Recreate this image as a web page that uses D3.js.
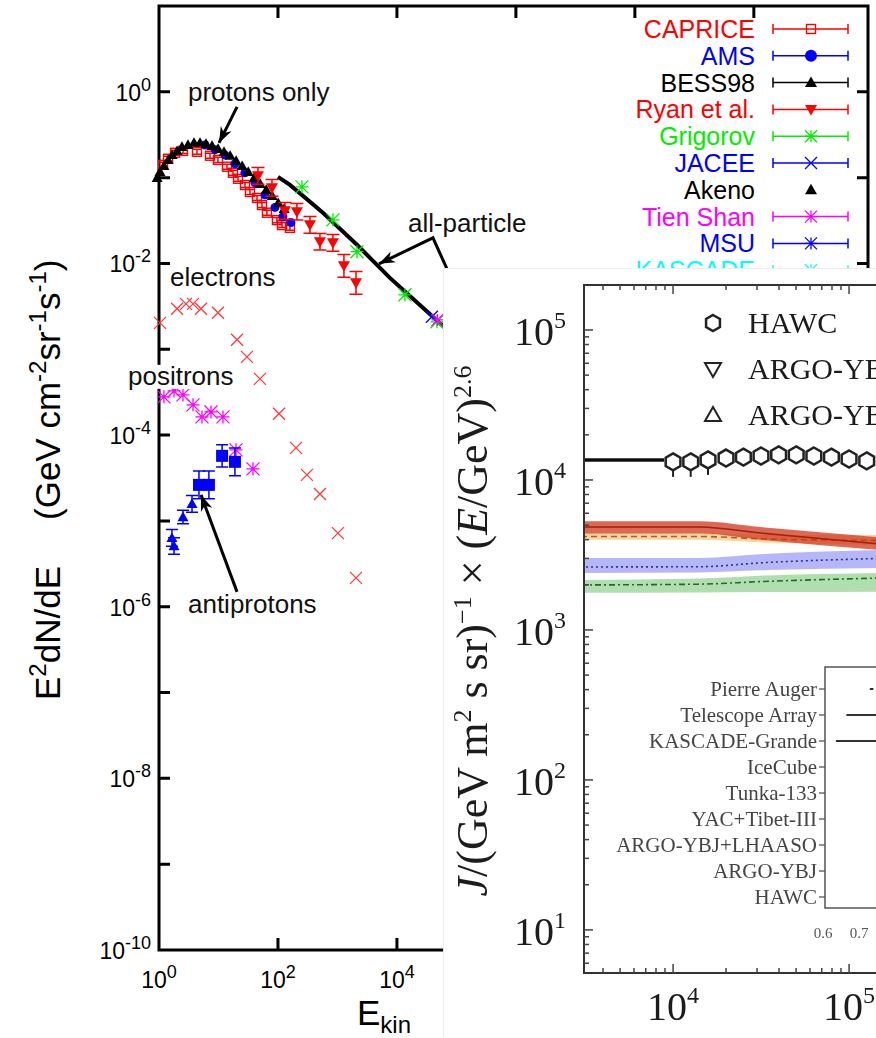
<!DOCTYPE html>
<html>
<head>
<meta charset="utf-8">
<script src="https://cdn.jsdelivr.net/npm/d3@7"></script>
<style>
  body { margin: 0; background: #fff; }
  svg { display: block; }
</style>
</head>
<body>
<svg id="chart" width="876" height="1038"></svg>
<script>
// ---- main chart: E^2 dN/dE vs E_kin (GeV)
var capriceE = [1.17, 1.42, 1.86, 2.53, 4.35, 7.2, 9.8, 13.9, 17.5, 21.3, 27.9, 33.8, 44.4, 53.8, 65.3, 96, 117, 159];
var capriceV = [0.141, 0.166, 0.195, 0.205, 0.200, 0.180, 0.161, 0.134, 0.114, 0.097, 0.082, 0.068, 0.058, 0.048, 0.039, 0.032, 0.028, 0.026];
var amsE = [5.94, 8.74, 12.9, 18.9, 27.8, 41, 60.5, 89, 121, 165];
var amsV = [0.240, 0.212, 0.183, 0.145, 0.114, 0.087, 0.063, 0.045, 0.035, 0.030];
var bessE = [0.93, 1.04, 1.21, 1.42, 1.67, 2.01, 2.43, 3.07, 3.88, 4.89, 6.17, 7.8, 9.84, 12.4, 15.7, 19.8, 25, 31.6, 39.8, 50.3, 63.5, 80, 101, 127];
var bessV = [0.0995, 0.117, 0.137, 0.161, 0.184, 0.205, 0.229, 0.241, 0.255, 0.255, 0.248, 0.235, 0.217, 0.200, 0.180, 0.157, 0.137, 0.117, 0.0995, 0.0847, 0.0721, 0.0614, 0.0508, 0.0433];
var ryanE = [46.1, 79.3, 131, 208, 345, 508, 839, 1285, 2048];
var ryanV = [0.105, 0.076, 0.041, 0.040, 0.0282, 0.0179, 0.0174, 0.00938, 0.00594];
var ryanErr = [1.25, 1.25, 1.25, 1.25, 1.25, 1.25, 1.25, 1.36, 1.36];
var grigorovE = [253, 840, 2128, 13620, 47000];
var grigorovV = [0.0781, 0.0322, 0.0137, 0.00431, 0.00209];
var jaceeE = [38700];
var jaceeV = [0.00239];
var tienShanE = [48000];
var tienShanV = [0.0022];
var allParticleE = [100, 159, 570, 2128, 7620, 27350, 98100];
var allParticleV = [0.102, 0.0824, 0.0389, 0.0165, 0.00679, 0.00304, 0.00136];
var electronE = [1.04, 2.01, 2.84, 3.73, 5.08, 9.8, 20.5, 30.1, 49.8, 104, 201, 307, 508, 1019, 2048];
var electronV = [0.00203, 0.00296, 0.00338, 0.00338, 0.00296, 0.00266, 0.00129, 0.000815, 0.000452, 0.000177, 7.1e-5, 3.44e-5, 2.06e-5, 7.2e-6, 2.17e-6];
var positronE = [1.21, 1.79, 2.53, 3.73, 5.28, 7.48, 11.9, 19.7, 38];
var positronV = [2.79e-4, 3.27e-4, 2.94e-4, 2.25e-4, 1.63e-4, 1.86e-4, 1.63e-4, 6.73e-5, 4.04e-5];
var pbarTriE = [1.65, 1.79, 2.53, 3.59];
var pbarTriV = [6.34e-6, 5.1e-6, 1.11e-5, 1.58e-5];
var pbarTriErr = [1.25, 1.25, 1.2, 1.25];
var pbarBoxE = [4.7, 6.9, 11.5, 18.9];
var pbarBoxV = [2.63e-5, 2.63e-5, 5.73e-5, 4.88e-5];
var pbarBoxErr = [1.45, 1.45, 1.35, 1.45];

var legendNames = ["CAPRICE", "AMS", "BESS98", "Ryan et al.", "Grigorov", "JACEE", "Akeno", "Tien Shan", "MSU", "KASCADE"];
var legendColors = ["#ff0000", "#0000ff", "#000000", "#ff0000", "#00ee00", "#0000ff", "#000000", "#ff00ff", "#0000ff", "#00ffff"];
var legendMarks = ["square", "circle", "up", "down", "star", "x", "up", "star", "star", "star"];
var legendBars = [true, true, true, true, true, true, false, true, true, true];

var noteText = ["protons only", "all-particle", "electrons", "positrons", "antiprotons"];
var noteE = [3.07, 15300, 1.53, 0.301, 3.07];
var noteV = [0.785, 0.0233, 0.00548, 3.85e-4, 8.47e-7];
var arrowProtonsE = [20.5, 10.2], arrowProtonsV = [0.668, 0.254];
var arrowAllE = [84000, 40300, 4980], arrowAllV = [0.00644, 0.0199, 0.00989];
var arrowPbarE = [20.5, 5.08], arrowPbarV = [1.49e-6, 2.01e-5];

// ---- pasted second figure (HAWC spectrum)
var hawcE = [1.0e4, 1.26e4, 1.58e4, 2.0e4, 2.51e4, 3.16e4, 3.98e4, 5.01e4, 6.31e4, 7.94e4, 1.0e5, 1.26e5];
var hawcV = [13200, 13200, 13600, 14000, 14200, 14450, 14700, 14700, 14450, 14200, 13800, 13400];
var hawcLineE = [3000, 8900];
var hawcLineV = [13600, 13600];
var bandE = [3000, 14200, 31200, 150000];
var redLo = [4400, 4400, 4000, 3415], redHi = [5300, 5300, 4850, 4150], redMid = [4860, 4860, 4430, 3740];
var orangeLo = [3990, 3990, 3850, 3690], orangeHi = [4440, 4440, 4300, 4300], orangeMid = [4200, 4200, 4050, 3950];
var blueLo = [2400, 2420, 2500, 2590], blueHi = [3020, 3020, 3200, 3415], blueMid = [2630, 2640, 2800, 3000];
var greenLo = [1770, 1780, 1790, 1800], greenHi = [2150, 2200, 2300, 2400], greenMid = [1995, 2020, 2100, 2220];
var ovLegend = ["HAWC", "ARGO-YBJ (2015)", "ARGO-YBJ (2012)"];
var ovLegendMarks = ["hex", "downOpen", "upOpen"];
var insetNames = ["Pierre Auger", "Telescope Array", "KASCADE-Grande", "IceCube", "Tunka-133", "YAC+Tibet-III", "ARGO-YBJ+LHAASO", "ARGO-YBJ", "HAWC"];
var insetLo = [0.73, 0.665, 0.636, null, null, null, null, null, null];
var insetHi = [0.74, 0.85, 0.85, null, null, null, null, null, null];
var insetTicks = [0.6, 0.7];

var svg = d3.select("#chart");
var defs = svg.append("defs");

var x = d3.scaleLog().domain([1, 8.3e11]).range([159, 868]);
var y = d3.scaleLog().domain([1e-10, 10]).range([950, 6]);

var left = svg.append("g").attr("font-family", "'Liberation Sans', Arial, Helvetica, sans-serif");

function mark(g, type, cx, cy, color, s) {
    var h = s / 2;
    if (type === "square") {
        g.append("rect").attr("x", cx - h).attr("y", cy - h).attr("width", s).attr("height", s)
            .attr("fill", "none").attr("stroke", color).attr("stroke-width", 1.4);
    } else if (type === "box") {
        g.append("rect").attr("x", cx - h).attr("y", cy - h).attr("width", s).attr("height", s).attr("fill", color);
    } else if (type === "circle") {
        g.append("circle").attr("cx", cx).attr("cy", cy).attr("r", h).attr("fill", color);
    } else if (type === "up" || type === "down") {
        var d = type === "up" ? 1 : -1;
        g.append("path")
            .attr("d", "M" + cx + "," + (cy - d * h) + "L" + (cx + h) + "," + (cy + d * h * 0.75) + "L" + (cx - h) + "," + (cy + d * h * 0.75) + "Z")
            .attr("fill", color);
    } else if (type === "x" || type === "star") {
        var p = "M" + (cx - h) + "," + (cy - h) + "L" + (cx + h) + "," + (cy + h) +
            "M" + (cx - h) + "," + (cy + h) + "L" + (cx + h) + "," + (cy - h);
        if (type === "star") {
            p += "M" + (cx - h) + "," + cy + "L" + (cx + h) + "," + cy + "M" + cx + "," + (cy - h) + "L" + cx + "," + (cy + h);
        }
        g.append("path").attr("d", p).attr("stroke", color).attr("stroke-width", 1.3).attr("fill", "none");
    }
}

function errBar(g, cx, y1, y2, w, color) {
    g.append("path")
        .attr("d", "M" + cx + "," + y1 + "V" + y2 + "M" + (cx - w / 2) + "," + y1 + "h" + w + "M" + (cx - w / 2) + "," + y2 + "h" + w)
        .attr("stroke", color).attr("stroke-width", 1.5).attr("fill", "none");
}

function series(E, V, type, color, size, err, capW) {
    var g = left.append("g");
    E.forEach(function (e, i) {
        var cx = x(e), cy = y(V[i]);
        if (err) errBar(g, cx, y(V[i] / err[i]), y(V[i] * err[i]), capW, color);
        mark(g, type, cx, cy, color, size);
    });
}

function powText(g, px, py, exp, anchor, size, supSize, rise) {
    var t = g.append("text").attr("x", px).attr("y", py).attr("text-anchor", anchor).attr("font-size", size);
    t.append("tspan").text("10");
    t.append("tspan").attr("dy", -rise).attr("font-size", supSize).text(exp);
    return t;
}

function arrow(E, V) {
    var pts = E.map(function (e, i) { return [x(e), y(V[i])]; });
    left.append("path").attr("d", d3.line()(pts)).attr("stroke", "#000").attr("stroke-width", 3).attr("fill", "none");
    var a = pts[pts.length - 2], b = pts[pts.length - 1];
    var ang = Math.atan2(b[1] - a[1], b[0] - a[0]);
    var ux = Math.cos(ang), uy = Math.sin(ang), L = 16, hw = 6;
    var bx = b[0] - ux * L, by = b[1] - uy * L;
    var head = [b, [bx - uy * hw, by + ux * hw], [b[0] - ux * L * 0.7, b[1] - uy * L * 0.7], [bx + uy * hw, by - ux * hw]];
    left.append("path").attr("d", d3.line()(head) + "Z").attr("fill", "#000");
}

// frame
var x0 = x.range()[0], x1 = x.range()[1], yb = y.range()[0], yt = y.range()[1];
left.append("rect").attr("x", x0).attr("y", yt).attr("width", x1 - x0).attr("height", yb - yt)
    .attr("fill", "none").attr("stroke", "#000").attr("stroke-width", 3);

// y ticks (each decade) and labels (every second decade)
d3.range(-9, 1).forEach(function (k) {
    var py = y(Math.pow(10, k));
    left.append("path").attr("d", "M" + x0 + "," + py + "h11M" + x1 + "," + py + "h-11")
        .attr("stroke", "#000").attr("stroke-width", 3);
});
d3.range(-10, 1, 2).forEach(function (k) {
    powText(left, 151, y(Math.pow(10, k)) + 9, String(k), "end", 23, 18, 10);
});
// x ticks and labels
d3.range(2, 12, 2).forEach(function (k) {
    var px = x(Math.pow(10, k));
    left.append("path").attr("d", "M" + px + "," + yb + "v-12M" + px + "," + yt + "v12")
        .attr("stroke", "#000").attr("stroke-width", 3);
});
d3.range(0, 12, 2).forEach(function (k) {
    powText(left, x(Math.pow(10, k)), 988, String(k), "middle", 23, 18, 10);
});

// axis titles
var xt = left.append("text").attr("x", 357).attr("y", 1025).attr("font-size", 35);
xt.append("tspan").text("E");
xt.append("tspan").attr("dy", 8).attr("font-size", 24).text("kin");

var yt1 = left.append("text").attr("transform", "translate(60,700) rotate(-90)").attr("font-size", 35);
yt1.append("tspan").text("E");
yt1.append("tspan").attr("dy", -14).attr("font-size", 24).text("2");
yt1.append("tspan").attr("dy", 14).text("dN/dE");
var yt2 = left.append("text").attr("transform", "translate(60,520) rotate(-90)").attr("font-size", 35);
yt2.append("tspan").text("(GeV cm");
yt2.append("tspan").attr("dy", -14).attr("font-size", 24).text("-2");
yt2.append("tspan").attr("dy", 14).text("sr");
yt2.append("tspan").attr("dy", -14).attr("font-size", 24).text("-1");
yt2.append("tspan").attr("dy", 14).text("s");
yt2.append("tspan").attr("dy", -14).attr("font-size", 24).text("-1");
yt2.append("tspan").attr("dy", 14).text(")");

// data
series(electronE, electronV, "x", "#ff3b3b", 12);
series(positronE, positronV, "star", "#ff00ff", 13);
series(pbarTriE, pbarTriV, "up", "#0000ff", 11, pbarTriErr, 12);
series(pbarBoxE, pbarBoxV, "box", "#0000ff", 12, pbarBoxErr, 12);
series(capriceE, capriceV, "square", "#ff0000", 9, capriceE.map(function () { return 1.07; }), 8);
series(amsE, amsV, "circle", "#0000ff", 9);
series(bessE, bessV, "up", "#000000", 11);
series(ryanE, ryanV, "down", "#ff0000", 12, ryanErr, 13);
left.append("path")
    .attr("d", d3.line().x(function (d) { return x(d[0]); }).y(function (d) { return y(d[1]); })(allParticleE.map(function (e, i) { return [e, allParticleV[i]]; })))
    .attr("stroke", "#000").attr("stroke-width", 4).attr("fill", "none");
series(grigorovE, grigorovV, "star", "#00ee00", 13);
series(jaceeE, jaceeV, "x", "#0000ff", 12);
series(tienShanE, tienShanV, "star", "#ff00ff", 12);

// annotations
noteText.forEach(function (t, i) {
    var tx = left.append("text").attr("x", x(noteE[i])).attr("y", y(noteV[i])).attr("font-size", 26).attr("fill", "#111").text(t);
    if (t === "positrons") {
        var bb = tx.node().getBBox();
        left.insert("rect", function () { return tx.node(); })
            .attr("x", bb.x).attr("y", bb.y + 4).attr("width", bb.width).attr("height", bb.height - 6).attr("fill", "#fff");
    }
});
arrow(arrowProtonsE, arrowProtonsV);
arrow(arrowAllE, arrowAllV);
arrow(arrowPbarE, arrowPbarV);

// legend
legendNames.forEach(function (name, i) {
    var base = 38 + 26.8 * i, cy = base - 9;
    left.append("text").attr("x", 755).attr("y", base).attr("text-anchor", "end").attr("font-size", 25)
        .attr("fill", legendColors[i]).text(name);
    var g = left.append("g");
    if (legendBars[i]) {
        g.append("path").attr("d", "M773," + cy + "H848M773," + (cy - 5) + "v10M848," + (cy - 5) + "v10")
            .attr("stroke", legendColors[i]).attr("stroke-width", 1.5).attr("fill", "none");
    }
    mark(g, legendMarks[i], 811, cy, legendColors[i], legendMarks[i] === "square" ? 9 : 12);
});

// ---- overlay figure
defs.append("clipPath").attr("id", "ovClip").append("rect").attr("x", 443).attr("y", 268).attr("width", 433).attr("height", 770);
defs.append("clipPath").attr("id", "ovFrame").append("rect").attr("x", 584).attr("y", 285).attr("width", 300).attr("height", 688);
var soft = defs.append("filter").attr("id", "soft");
soft.append("feGaussianBlur").attr("stdDeviation", 0.7);

var ov = svg.append("g").attr("clip-path", "url(#ovClip)")
    .attr("font-family", "'Liberation Serif', 'Times New Roman', serif");
ov.append("rect").attr("x", 443).attr("y", 268).attr("width", 440).attr("height", 780)
    .attr("fill", "#fff").attr("stroke", "#ececec").attr("stroke-width", 2);
var oc = ov.append("g").attr("filter", "url(#soft)");

var xo = d3.scaleLog().domain([3119, 316000]).range([584, 937]);
var yo = d3.scaleLog().domain([5.16, 199500]).range([973, 285]);

// bands
var bandArea = d3.area().x(function (d) { return xo(d.e); })
    .y0(function (d) { return yo(d.lo); }).y1(function (d) { return yo(d.hi); }).curve(d3.curveMonotoneX);
var bandLine = d3.line().x(function (d) { return xo(d.e); }).y(function (d) { return yo(d.mid); }).curve(d3.curveMonotoneX);
var bands = [
    { lo: greenLo, hi: greenHi, mid: greenMid, fill: "rgba(110,195,110,0.55)", stroke: "#1f6e1f", dash: "6,3,2,3" },
    { lo: blueLo, hi: blueHi, mid: blueMid, fill: "rgba(110,110,245,0.5)", stroke: "#303090", dash: "2,3" },
    { lo: orangeLo, hi: orangeHi, mid: orangeMid, fill: "rgba(245,185,90,0.6)", stroke: "#a86020", dash: "6,4" },
    { lo: redLo, hi: redHi, mid: redMid, fill: "rgba(210,55,30,0.75)", stroke: "#a02010", dash: null }
];
var bg = oc.append("g").attr("clip-path", "url(#ovFrame)");
bands.forEach(function (b) {
    var rows = bandE.map(function (e, i) { return { e: e, lo: b.lo[i], hi: b.hi[i], mid: b.mid[i] }; });
    bg.append("path").attr("d", bandArea(rows)).attr("fill", b.fill);
    bg.append("path").attr("d", bandLine(rows)).attr("fill", "none").attr("stroke", b.stroke)
        .attr("stroke-width", 1.6).attr("stroke-dasharray", b.dash);
});

// HAWC
bg.append("path")
    .attr("d", d3.line().x(function (d) { return xo(d[0]); }).y(function (d) { return yo(d[1]); })(hawcLineE.map(function (e, i) { return [e, hawcLineV[i]]; })))
    .attr("stroke", "#111").attr("stroke-width", 3.5).attr("fill", "none");
function hex(g, cx, cy, r) {
    var pts = d3.range(6).map(function (k) {
        var a = Math.PI / 3 * k - Math.PI / 2;
        return [cx + r * Math.cos(a), cy + r * Math.sin(a)];
    });
    g.append("path").attr("d", d3.line()(pts) + "Z").attr("fill", "#fff").attr("stroke", "#222").attr("stroke-width", 2.5);
}
hawcE.forEach(function (e, i) {
    var cx = xo(e), cy = yo(hawcV[i]);
    if (i < 3) bg.append("path").attr("d", "M" + cx + "," + cy + "V" + (cy + 15)).attr("stroke", "#222").attr("stroke-width", 2);
    hex(bg, cx, cy, 8.5);
});

// frame and ticks
var fx0 = xo.range()[0], fx1 = xo.range()[1], fy0 = yo.range()[0], fy1 = yo.range()[1];
oc.append("path").attr("d", "M" + fx1 + "," + fy1 + "H" + fx0 + "V" + fy0 + "H" + fx1)
    .attr("fill", "none").attr("stroke", "#333").attr("stroke-width", 2);
function isMajor(v) { return Math.abs(Math.log10(v) - Math.round(Math.log10(v))) < 1e-6; }
yo.ticks().forEach(function (t) {
    var len = isMajor(t) ? 9 : 5;
    oc.append("path").attr("d", "M" + fx0 + "," + yo(t) + "h" + len).attr("stroke", "#444").attr("stroke-width", 1.5);
    if (isMajor(t)) powText(oc, 566, yo(t) + 15, String(Math.round(Math.log10(t))), "end", 40, 24, 17).attr("fill", "#1a1a1a");
});
xo.ticks().forEach(function (t) {
    var len = isMajor(t) ? 9 : 5;
    oc.append("path").attr("d", "M" + xo(t) + "," + fy0 + "v-" + len + "M" + xo(t) + "," + fy1 + "v" + len)
        .attr("stroke", "#444").attr("stroke-width", 1.5);
    if (isMajor(t)) powText(oc, xo(t), 1020, String(Math.round(Math.log10(t))), "middle", 40, 24, 17).attr("fill", "#1a1a1a");
});

// y title
var yl = oc.append("text").attr("transform", "translate(487,631) rotate(-90)").attr("text-anchor", "middle")
    .attr("font-size", 44).attr("fill", "#1a1a1a");
yl.append("tspan").attr("font-style", "italic").text("J");
yl.append("tspan").text("/(GeV m");
yl.append("tspan").attr("dy", -16).attr("font-size", 26).text("2");
yl.append("tspan").attr("dy", 16).text(" s sr)");
yl.append("tspan").attr("dy", -16).attr("font-size", 26).text("\u22121");
yl.append("tspan").attr("dy", 16).text(" \u00d7 (");
yl.append("tspan").attr("font-style", "italic").text("E");
yl.append("tspan").text("/GeV)");
yl.append("tspan").attr("dy", -16).attr("font-size", 26).text("2.6");

// overlay legend
ovLegend.forEach(function (name, i) {
    var cy = 323 + 46 * i;
    var g = oc.append("g");
    if (ovLegendMarks[i] === "hex") {
        hex(g, 713, cy, 8);
    } else {
        var d = ovLegendMarks[i] === "upOpen" ? 1 : -1;
        g.append("path").attr("d", "M713," + (cy - d * 8) + "L721," + (cy + d * 6) + "L705," + (cy + d * 6) + "Z")
            .attr("fill", "none").attr("stroke", "#222").attr("stroke-width", 2);
    }
    oc.append("text").attr("x", 748).attr("y", cy + 10).attr("font-size", 30).attr("fill", "#1a1a1a").text(name);
});

// inset
var iy = d3.scalePoint().domain(insetNames).range([689, 897]);
var ix = d3.scaleLinear().domain([0.6, 0.7]).range([823, 859]);
oc.append("rect").attr("x", 825).attr("y", 667).attr("width", 120).attr("height", 241)
    .attr("fill", "none").attr("stroke", "#555").attr("stroke-width", 1.5);
insetNames.forEach(function (n, i) {
    var py = iy(n);
    oc.append("path").attr("d", "M819," + py + "h6").attr("stroke", "#555").attr("stroke-width", 1.3);
    oc.append("text").attr("x", 817).attr("y", py + 7).attr("text-anchor", "end").attr("font-size", 21)
        .attr("fill", "#444").text(n);
    if (insetLo[i] !== null) {
        oc.append("path").attr("d", "M" + ix(insetLo[i]) + "," + py + "H" + ix(insetHi[i]))
            .attr("stroke", "#333").attr("stroke-width", 2);
    }
});
insetTicks.forEach(function (t) {
    oc.append("text").attr("x", ix(t)).attr("y", 938).attr("text-anchor", "middle").attr("font-size", 15)
        .attr("fill", "#555").text(t.toFixed(1));
});
</script>
</body>
</html>
